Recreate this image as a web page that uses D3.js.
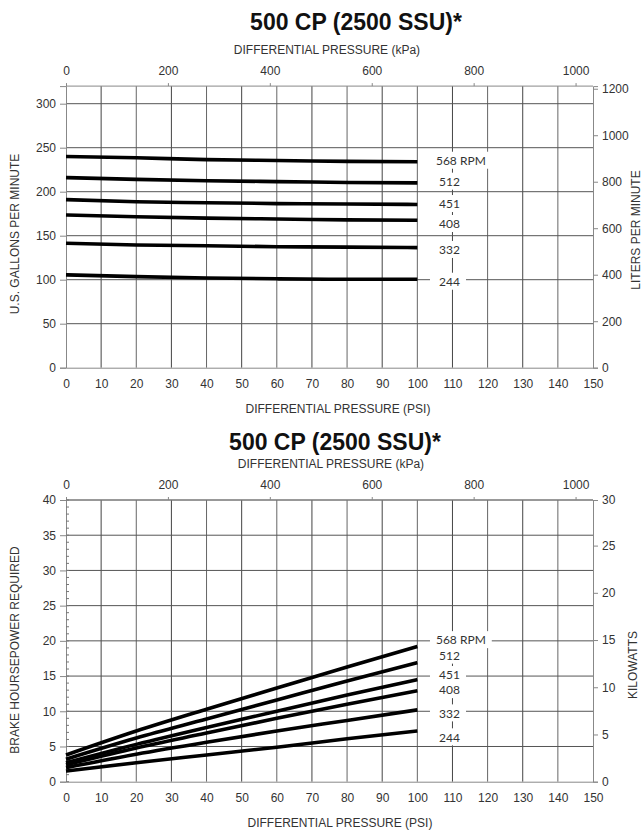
<!DOCTYPE html>
<html>
<head>
<meta charset="utf-8">
<script src="https://cdn.jsdelivr.net/npm/d3@7"></script>
<style>
  html, body { margin: 0; padding: 0; background: #fff; }
  svg { display: block; }
  .tick-label { font-family: "Liberation Sans", Arial, sans-serif; font-size: 12px; fill: #333; }
  .axis-title { font-family: "Liberation Sans", Arial, sans-serif; font-size: 12px; fill: #333; }
  .chart-title { font-family: "Liberation Sans", Arial, sans-serif; font-size: 23px; font-weight: bold; fill: #111; }
  .rpm-label { font-family: Lato, "Open Sans", sans-serif; font-size: 12px; fill: #333; }
</style>
</head>
<body>
<svg id="chart" width="644" height="834"></svg>
<script>
// ---------------- DATA ----------------
const chartTitle = "500 CP (2500 SSU)*";
const rpmLabels = ["568 RPM", "512", "451", "408", "332", "244"];
const psiPoints = [0, 20, 40, 60, 80, 100];

// Flow (US GPM) vs differential pressure (PSI)
const flow568 = [240, 238.5, 236.5, 235.5, 234.5, 234];
const flow512 = [216, 214, 212.5, 211.5, 210.5, 210];
const flow451 = [191, 188.5, 187.5, 186.5, 186, 185.5];
const flow408 = [173.5, 171.5, 170, 169, 168, 167.5];
const flow332 = [141.5, 139.5, 138.5, 137.5, 137, 136.5];
const flow244 = [105.5, 103.5, 102, 101, 100.5, 100.5];
// label anchor values (GPM) for the RPM labels
const flowLabelAt = [235.2, 211.4, 186, 163.3, 133.8, 97.7];

// Brake horsepower vs differential pressure (PSI)
const bhp568 = [3.8, 7.2, 10.3, 13.3, 16.3, 19.2];
const bhp512 = [3.2, 6.2, 8.9, 11.6, 14.3, 16.9];
const bhp451 = [2.7, 5.3, 7.7, 10.0, 12.3, 14.5];
const bhp408 = [2.4, 4.8, 6.9, 9.0, 11.0, 12.9];
const bhp332 = [2.0, 3.9, 5.6, 7.2, 8.7, 10.2];
const bhp244 = [1.5, 2.7, 3.8, 4.9, 6.1, 7.2];
const bhpLabelAt = [20.1, 17.9, 15.15, 13.0, 9.7, 6.3];

// Axis ticks
const psiTicks = [0, 10, 20, 30, 40, 50, 60, 70, 80, 90, 100, 110, 120, 130, 140, 150];
const kpaTicks = [0, 200, 400, 600, 800, 1000];
const gpmTicks = [0, 50, 100, 150, 200, 250, 300];
const lpmTicks = [0, 200, 400, 600, 800, 1000, 1200];
const hpTicks = [0, 5, 10, 15, 20, 25, 30, 35, 40];
const kwTicks = [0, 5, 10, 15, 20, 25, 30];

const PSI_TO_KPA = 6.89476;
const GPM_TO_LPM = 3.78541;
const HP_TO_KW = 0.745700;

// ---------------- DRAW ----------------
const svg = d3.select("#chart");
const fmt = d3.format("d");

function drawChart(cfg) {
  const g = svg.append("g");
  const x = d3.scaleLinear().domain([0, 150]).range([66, 593]);
  const y = d3.scaleLinear().domain(cfg.yDomain).range(cfg.yRange);
  const xk = d3.scaleLinear().domain([0, 150 * PSI_TO_KPA]).range([66, 593]);
  const yRight = d3.scaleLinear().domain([cfg.yDomain[0] * cfg.rightFactor, cfg.yDomain[1] * cfg.rightFactor]).range(cfg.yRange);
  const top = cfg.yRange[1], bottom = cfg.yRange[0];

  // Title
  g.append("text").attr("class", "chart-title")
    .attr("x", cfg.titleX).attr("y", cfg.titleY)
    .attr("text-anchor", "middle").text(chartTitle);

  // kPa title
  g.append("text").attr("class", "axis-title")
    .attr("x", cfg.kpaTitleX).attr("y", top - 32)
    .attr("text-anchor", "middle").text("DIFFERENTIAL PRESSURE (kPa)");

  // Grid: vertical lines
  g.append("g").selectAll("line").data(psiTicks.filter(d => d > 0 && d < 150)).join("line")
    .attr("x1", d => x(d)).attr("x2", d => x(d))
    .attr("y1", top).attr("y2", bottom)
    .attr("stroke", (d, i) => (i % 2 === 0 ? "#444" : "#666")).attr("stroke-width", 1);
  // Grid: horizontal lines
  g.append("g").selectAll("line").data(cfg.leftTicks.filter(d => d > 0)).join("line")
    .attr("x1", x(0)).attr("x2", x(150))
    .attr("y1", d => y(d)).attr("y2", d => y(d))
    .attr("stroke", "#555").attr("stroke-width", 1);
  // top border
  g.append("line").attr("x1", x(0)).attr("x2", x(150)).attr("y1", top).attr("y2", top)
    .attr("stroke", "#888").attr("stroke-width", 1);

  // Axes
  const axisStyle = sel => {
    sel.attr("font-family", null).attr("font-size", null);
    sel.select(".domain").attr("stroke", "#888");
    sel.selectAll(".tick line").attr("stroke", "#888");
    sel.selectAll(".tick text").attr("class", "tick-label").attr("fill", null);
  };
  g.append("g").attr("transform", `translate(0,${bottom})`)
    .call(d3.axisBottom(x).tickValues(psiTicks).tickFormat(fmt).tickSize(0).tickPadding(12))
    .call(axisStyle);
  g.append("g").attr("transform", `translate(${x(0)},0)`)
    .call(d3.axisLeft(y).tickValues(cfg.leftTicks).tickFormat(fmt).tickSizeOuter(0).tickSize(6).tickPadding(4))
    .call(axisStyle);
  g.append("g").attr("transform", `translate(${x(150)},0)`)
    .call(d3.axisRight(yRight).tickValues(cfg.rightTicks.map(v => Math.min(v, cfg.yDomain[1] * cfg.rightFactor))).tickFormat((d, i) => fmt(cfg.rightTicks[i])).tickSizeOuter(0).tickSize(5).tickPadding(4))
    .call(axisStyle);
  g.append("g").attr("transform", `translate(0,${top})`)
    .call(d3.axisTop(xk).tickValues(kpaTicks).tickFormat(fmt).tickSizeOuter(0).tickSize(3).tickPadding(8))
    .call(axisStyle)
    .call(s => s.select(".domain").remove());

  // minor ticks on left axis (bottom chart)
  if (cfg.minorTicks) {
    g.append("g").selectAll("line").data(d3.range(cfg.yDomain[0], cfg.yDomain[1] + 1, 1)).join("line")
      .attr("x1", x(0)).attr("x2", x(0) + 3)
      .attr("y1", d => y(d)).attr("y2", d => y(d))
      .attr("stroke", "#777").attr("stroke-width", 1);
  }

  // PSI title
  g.append("text").attr("class", "axis-title")
    .attr("x", cfg.psiTitleX).attr("y", bottom + cfg.psiTitleDy)
    .attr("text-anchor", "middle").text("DIFFERENTIAL PRESSURE (PSI)");

  // Left title
  g.append("text").attr("class", "axis-title")
    .attr("transform", `translate(19,${cfg.leftTitleY}) rotate(-90)`)
    .attr("text-anchor", "middle").text(cfg.leftTitle);
  // Right title
  g.append("text").attr("class", "axis-title")
    .attr("transform", `translate(${cfg.rightTitleX},${cfg.rightTitleY}) rotate(-90)`)
    .attr("text-anchor", "middle").text(cfg.rightTitle);

  // Series lines
  const line = d3.line().x((d, i) => x(psiPoints[i])).y(d => y(d)).curve(d3.curveMonotoneX);
  g.append("g").selectAll("path").data(cfg.series).join("path")
    .attr("d", d => line(d))
    .attr("fill", "none").attr("stroke", "#000").attr("stroke-width", 3.6);

  // Labels with white backgrounds
  const lg = g.append("g");
  rpmLabels.forEach((lab, i) => {
    const cy = y(cfg.labelAt[i]);
    const tx = i === 0 ? x(105.3) : x(106.2);
    const rect = lg.append("rect").attr("fill", "#fff");
    const t = lg.append("text").attr("class", "rpm-label")
      .attr("x", tx).attr("y", cy).attr("dy", "0.35em").text(lab);
    const w = t.node().getComputedTextLength();
    rect.attr("x", x(103.6)).attr("y", cy - 9).attr("width", tx + w + 6 - x(103.6)).attr("height", 17);
  });
}

drawChart({
  yDomain: [0, 320], yRange: [367.7, 86.1],
  leftTicks: gpmTicks, rightTicks: lpmTicks, rightFactor: GPM_TO_LPM,
  series: [flow568, flow512, flow451, flow408, flow332, flow244],
  labelAt: flowLabelAt,
  titleX: 356, titleY: 30, kpaTitleX: 327,
  psiTitleX: 338, psiTitleDy: 45,
  leftTitle: "U.S. GALLONS PER MINUTE", leftTitleY: 234,
  rightTitle: "LITERS PER MINUTE", rightTitleX: 640, rightTitleY: 230,
  minorTicks: false
});

drawChart({
  yDomain: [0, 40], yRange: [781.7, 500],
  leftTicks: hpTicks, rightTicks: kwTicks, rightFactor: HP_TO_KW,
  series: [bhp568, bhp512, bhp451, bhp408, bhp332, bhp244],
  labelAt: bhpLabelAt,
  titleX: 335, titleY: 450, kpaTitleX: 331,
  psiTitleX: 340, psiTitleDy: 45,
  leftTitle: "BRAKE HOURSEPOWER REQUIRED", leftTitleY: 650,
  rightTitle: "KILOWATTS", rightTitleX: 637, rightTitleY: 665,
  minorTicks: true
});
</script>
</body>
</html>
